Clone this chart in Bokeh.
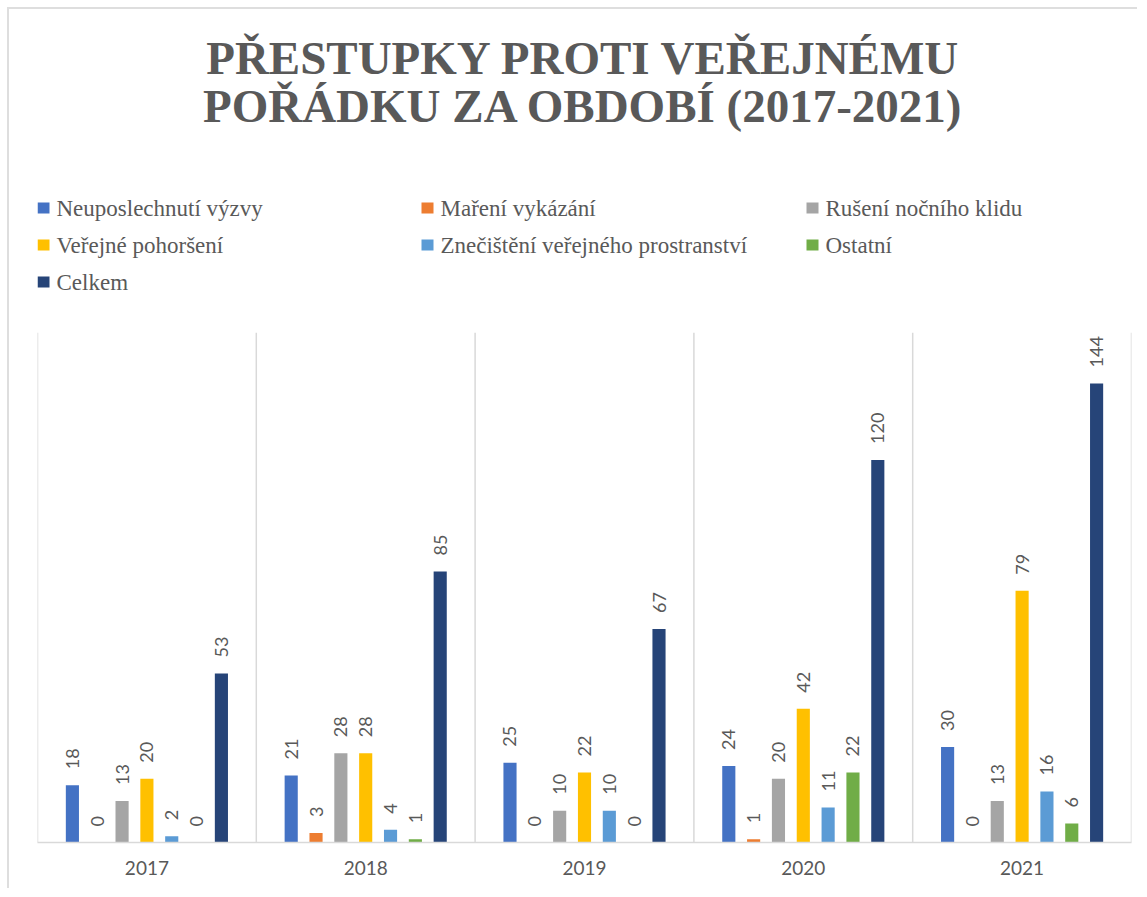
from math import pi
from bokeh.plotting import figure
from bokeh.models import Range1d, FactorRange, ColumnDataSource, Span
from bokeh.layouts import column
from bokeh.transform import dodge
from bokeh.core.properties import value
from bokeh.embed import file_html
from bokeh.resources import INLINE

# ---- data ----
years = ["2017", "2018", "2019", "2020", "2021"]
series = ["Neuposlechnutí výzvy", "Maření vykázání", "Rušení nočního klidu",
          "Veřejné pohoršení", "Znečištění veřejného prostranství", "Ostatní", "Celkem"]
colors = ["#4472C4", "#ED7D31", "#A5A5A5", "#FFC000", "#5B9BD5", "#70AD47", "#264478"]
neuposlechnuti = [18, 21, 25, 24, 30]
mareni = [0, 3, 0, 1, 0]
ruseni = [13, 28, 10, 20, 13]
pohorseni = [20, 28, 22, 42, 79]
znecisteni = [2, 4, 10, 11, 16]
ostatni = [0, 1, 0, 22, 6]
celkem = [53, 85, 67, 120, 144]
values_list = [neuposlechnuti, mareni, ruseni, pohorseni, znecisteni, ostatni, celkem]
title_lines = ["PŘESTUPKY PROTI VEŘEJNÉMU", "POŘÁDKU ZA OBDOBÍ (2017-2021)"]

TEXT = "#595959"
GRID = "#d9d9d9"
SERIF = "Liberation Serif"
W = 1128
H1 = 300
H2 = 579
BL, BR = 28, 6

# ---- top: title + legend (pixel coordinates of the canvas) ----
top = figure(width=W, height=H1, x_range=Range1d(BL, W - BR), y_range=Range1d(H1, 0),
             output_backend="svg", toolbar_location=None,
             min_border_left=BL, min_border_right=BR, min_border_top=0, min_border_bottom=0,
             x_axis_location=None, y_axis_location=None, outline_line_color=None)
top.grid.visible = False

top.text(x=[574, 574], y=[48, 96], text=title_lines, text_align="center",
         text_baseline="alphabetic", text_font=value(SERIF),
         text_font_style="bold", text_font_size="47px", text_color=TEXT)

col_x = [28, 412, 797]
row_y = [198.5, 235.5, 272.5]
lx = [col_x[i % 3] for i in range(len(series))]
ly = [row_y[i // 3] for i in range(len(series))]
top.rect(x=[v + 6 for v in lx], y=ly, width=12, height=11, fill_color=colors,
         line_color=None)
top.text(x=[v + 19 for v in lx], y=ly, text=series, text_align="left",
         text_baseline="middle", text_font=value(SERIF),
         text_font_size="23px", text_color=TEXT)

# ---- bottom: bar chart ----
p = figure(width=W, height=H2, x_range=FactorRange(*years), y_range=Range1d(0, 160),
           output_backend="svg", toolbar_location=None,
           min_border_left=BL, min_border_right=BR, min_border_top=23, min_border_bottom=46,
           y_axis_location=None, outline_line_color=None)
p.grid.visible = False

step = 0.1135
for k, (name, vals, col) in enumerate(zip(series, values_list, colors)):
    src = ColumnDataSource(dict(year=years, v=vals, lab=[str(v) for v in vals]))
    off = (k - 3) * step
    p.vbar(x=dodge("year", off, range=p.x_range), top="v", width=0.06, bottom=0,
           source=src, fill_color=col, line_color=None)
    p.text(x=dodge("year", off, range=p.x_range), y="v", text="lab", source=src,
           angle=pi / 2, text_align="left", text_baseline="middle", y_offset=-16,
           text_font=value("Lato"), text_font_size="18px", text_color=TEXT)

for i in range(len(years) + 1):
    p.add_layout(Span(location=i, dimension="height", line_color=GRID, line_width=1.5))

ax = p.xaxis[0]
ax.axis_line_color = GRID
ax.axis_line_width = 1.5
ax.major_tick_line_color = None
ax.minor_tick_line_color = None
ax.major_tick_out = 0
ax.major_tick_in = 0
ax.major_label_standoff = 18
ax.major_label_text_font = "Lato"
ax.major_label_text_font_size = "19px"
ax.major_label_text_color = TEXT

layout = column(top, p, margin=(7, 0, 0, 7),
                styles={"border-left": "2px solid #dedede",
                        "border-top": "2px solid #dedede"})

open("out.html", "w").write(file_html(layout, INLINE))
